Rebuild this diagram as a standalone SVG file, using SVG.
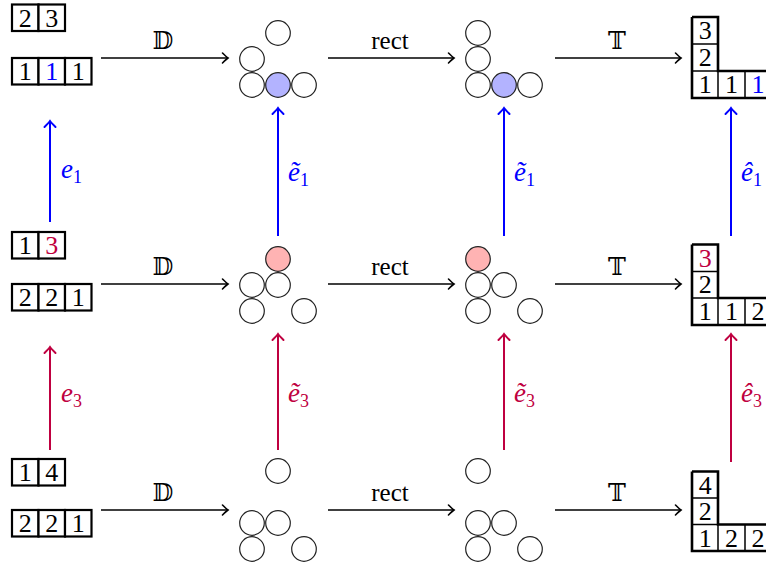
<svg xmlns="http://www.w3.org/2000/svg" width="766" height="566" viewBox="0 0 766 566">
<style>
.num{font-size:26px;text-anchor:middle;fill:#000;}
.cell{fill:#fff;stroke:#000;stroke-width:2.2;}
.in{fill:none;stroke:#000;stroke-width:1.5;}
.out{fill:none;stroke:#000;stroke-width:2.6;stroke-linejoin:miter;}
.c{fill:#fff;stroke:#222;stroke-width:1.2;}
.cb{fill:#b3b3ff;stroke:#222;stroke-width:1.2;}
.cp{fill:#ffb3b3;stroke:#222;stroke-width:1.2;}
.h{stroke:#000;stroke-width:1.6;fill:none;marker-end:url(#mk);}
.vb{stroke:#0000ff;stroke-width:2;fill:none;marker-end:url(#mb);}
.vr{stroke:#bf0040;stroke-width:2;fill:none;marker-end:url(#mr);}
.lab{font-size:25px;text-anchor:middle;fill:#000;}
.ds{font-size:24px;text-anchor:middle;fill:#000;}
.mb{font-size:27px;font-style:italic;fill:#0000ff;}
.mr{font-size:27px;font-style:italic;fill:#bf0040;}
.sub{font-size:18px;font-style:normal;}
.blue{fill:#0000ff;}
.red{fill:#bf0040;}
</style>
<defs>
<marker id="mk" markerUnits="userSpaceOnUse" markerWidth="14" markerHeight="14" viewBox="-8 -7 10 14" refX="0" refY="0" orient="auto" overflow="visible">
<path d="M-5.5,-5 Q-1.5,-1 0,0 Q-1.5,1 -5.5,5" fill="none" stroke="#000" stroke-width="1.6" stroke-linecap="round"/>
</marker>
<marker id="mb" markerUnits="userSpaceOnUse" markerWidth="14" markerHeight="14" viewBox="-8 -7 10 14" refX="0" refY="0" orient="auto" overflow="visible">
<path d="M-6,-5.5 Q-1.5,-1 0,0 Q-1.5,1 -6,5.5" fill="none" stroke="#0000ff" stroke-width="2" stroke-linecap="round"/>
</marker>
<marker id="mr" markerUnits="userSpaceOnUse" markerWidth="14" markerHeight="14" viewBox="-8 -7 10 14" refX="0" refY="0" orient="auto" overflow="visible">
<path d="M-6,-5.5 Q-1.5,-1 0,0 Q-1.5,1 -6,5.5" fill="none" stroke="#bf0040" stroke-width="2" stroke-linecap="round"/>
</marker>
</defs>

<g font-family="Liberation Serif, serif">
<!-- Left tableaux -->
<g id="L1">
<rect class="cell" x="12" y="4.5" width="26.5" height="26.5"/><rect class="cell" x="38.5" y="4.5" width="26.5" height="26.5"/>
<text class="num" x="25.3" y="26.5">2</text><text class="num" x="51.8" y="26.5">3</text>
<rect class="cell" x="12" y="58" width="26.5" height="26.5"/><rect class="cell" x="38.5" y="58" width="26.5" height="26.5"/><rect class="cell" x="65" y="58" width="26.5" height="26.5"/>
<text class="num" x="25.3" y="80">1</text><text class="num blue" x="51.8" y="80">1</text><text class="num" x="78.3" y="80">1</text>
</g>
<g id="L2">
<rect class="cell" x="12" y="232" width="26.5" height="26.5"/><rect class="cell" x="38.5" y="232" width="26.5" height="26.5"/>
<text class="num" x="25.3" y="254">1</text><text class="num red" x="51.8" y="254">3</text>
<rect class="cell" x="12" y="284" width="26.5" height="26.5"/><rect class="cell" x="38.5" y="284" width="26.5" height="26.5"/><rect class="cell" x="65" y="284" width="26.5" height="26.5"/>
<text class="num" x="25.3" y="306">2</text><text class="num" x="51.8" y="306">2</text><text class="num" x="78.3" y="306">1</text>
</g>
<g id="L3">
<rect class="cell" x="12" y="459" width="26.5" height="26.5"/><rect class="cell" x="38.5" y="459" width="26.5" height="26.5"/>
<text class="num" x="25.3" y="481">1</text><text class="num" x="51.8" y="481">4</text>
<rect class="cell" x="12" y="510" width="26.5" height="26.5"/><rect class="cell" x="38.5" y="510" width="26.5" height="26.5"/><rect class="cell" x="65" y="510" width="26.5" height="26.5"/>
<text class="num" x="25.3" y="532">2</text><text class="num" x="51.8" y="532">2</text><text class="num" x="78.3" y="532">1</text>
</g>

<!-- D circle diagrams -->
<g id="D1">
<circle class="c" cx="278" cy="33" r="12.3"/>
<circle class="c" cx="252" cy="59" r="12.3"/>
<circle class="c" cx="252" cy="85" r="12.3"/><circle class="cb" cx="278" cy="85" r="12.3"/><circle class="c" cx="304" cy="85" r="12.3"/>
</g>
<g id="D2">
<circle class="cp" cx="278" cy="259" r="12.3"/>
<circle class="c" cx="252" cy="285" r="12.3"/><circle class="c" cx="278" cy="285" r="12.3"/>
<circle class="c" cx="252" cy="311" r="12.3"/><circle class="c" cx="304" cy="311" r="12.3"/>
</g>
<g id="D3">
<circle class="c" cx="278" cy="471" r="12.3"/>
<circle class="c" cx="252" cy="523" r="12.3"/><circle class="c" cx="278" cy="523" r="12.3"/>
<circle class="c" cx="252" cy="549" r="12.3"/><circle class="c" cx="304" cy="549" r="12.3"/>
</g>

<!-- rect circle diagrams -->
<g id="R1">
<circle class="c" cx="478" cy="33" r="12.3"/>
<circle class="c" cx="478" cy="59" r="12.3"/>
<circle class="c" cx="478" cy="85" r="12.3"/><circle class="cb" cx="504" cy="85" r="12.3"/><circle class="c" cx="530" cy="85" r="12.3"/>
</g>
<g id="R2">
<circle class="cp" cx="478" cy="259" r="12.3"/>
<circle class="c" cx="478" cy="285" r="12.3"/><circle class="c" cx="504" cy="285" r="12.3"/>
<circle class="c" cx="478" cy="311" r="12.3"/><circle class="c" cx="530" cy="311" r="12.3"/>
</g>
<g id="R3">
<circle class="c" cx="478" cy="471" r="12.3"/>
<circle class="c" cx="478" cy="523" r="12.3"/><circle class="c" cx="504" cy="523" r="12.3"/>
<circle class="c" cx="478" cy="549" r="12.3"/><circle class="c" cx="530" cy="549" r="12.3"/>
</g>

<!-- Right tableaux -->
<g id="T1">
<path class="in" d="M692,44 H718 M692,71 H718 M718,71 V98 M745,71 V98"/>
<path class="out" d="M692,17 H718 V71 H772 M692,17 V98 H772"/>
<text class="num" x="705.3" y="39">3</text><text class="num" x="705.3" y="66">2</text>
<text class="num" x="705.3" y="93">1</text><text class="num" x="731.5" y="93">1</text><text class="num blue" x="758" y="93">1</text>
</g>
<g id="T2">
<path class="in" d="M692,271.5 H718 M692,298 H718 M718,298 V325 M745,298 V325"/>
<path class="out" d="M692,244.5 H718 V298 H772 M692,244.5 V325 H772"/>
<text class="num red" x="705.3" y="266.5">3</text><text class="num" x="705.3" y="293">2</text>
<text class="num" x="705.3" y="320">1</text><text class="num" x="731.5" y="320">1</text><text class="num" x="758" y="320">2</text>
</g>
<g id="T3">
<path class="in" d="M692,498 H718 M692,524.5 H718 M718,524.5 V551 M745,524.5 V551"/>
<path class="out" d="M692,471.5 H718 V524.5 H772 M692,471.5 V551 H772"/>
<text class="num" x="705.3" y="493.5">4</text><text class="num" x="705.3" y="520">2</text>
<text class="num" x="705.3" y="546.5">1</text><text class="num" x="731.5" y="546.5">2</text><text class="num" x="758" y="546.5">2</text>
</g>

<!-- Connectors -->
<g id="connectors">
<line class="h" x1="101" y1="58" x2="228" y2="58"/>
<line class="h" x1="328" y1="58" x2="454" y2="58"/>
<line class="h" x1="555" y1="58" x2="681" y2="58"/>
<line class="h" x1="101" y1="284" x2="228" y2="284"/>
<line class="h" x1="328" y1="284" x2="454" y2="284"/>
<line class="h" x1="555" y1="284" x2="681" y2="284"/>
<line class="h" x1="101" y1="510" x2="228" y2="510"/>
<line class="h" x1="328" y1="510" x2="454" y2="510"/>
<line class="h" x1="555" y1="510" x2="681" y2="510"/>
<g font-family="DejaVu Serif, DejaVu Sans, serif">
<text class="ds" x="163" y="49">𝔻</text>
<text class="ds" x="617" y="49">𝕋</text>
<text class="ds" x="163" y="275">𝔻</text>
<text class="ds" x="617" y="275">𝕋</text>
<text class="ds" x="163" y="501">𝔻</text>
<text class="ds" x="617" y="501">𝕋</text>
</g>
<text class="lab" x="390" y="49">rect</text>
<text class="lab" x="390" y="275">rect</text>
<text class="lab" x="390" y="501">rect</text>

<line class="vb" x1="50" y1="222" x2="50" y2="121"/>
<line class="vb" x1="278" y1="236" x2="278" y2="108"/>
<line class="vb" x1="504" y1="236" x2="504" y2="108"/>
<line class="vb" x1="731" y1="236" x2="731" y2="108"/>
<line class="vr" x1="50" y1="450" x2="50" y2="347"/>
<line class="vr" x1="278" y1="450" x2="278" y2="334"/>
<line class="vr" x1="504" y1="450" x2="504" y2="334"/>
<line class="vr" x1="731" y1="462" x2="731" y2="334"/>

<text class="mb" x="61" y="178">e<tspan class="sub" dy="5">1</tspan></text>
<text class="mb" x="288" y="181">ẽ<tspan class="sub" dy="5">1</tspan></text>
<text class="mb" x="514" y="181">ẽ<tspan class="sub" dy="5">1</tspan></text>
<text class="mb" x="741" y="181">ê<tspan class="sub" dy="5">1</tspan></text>
<text class="mr" x="61" y="402">e<tspan class="sub" dy="5">3</tspan></text>
<text class="mr" x="288" y="402">ẽ<tspan class="sub" dy="5">3</tspan></text>
<text class="mr" x="514" y="402">ẽ<tspan class="sub" dy="5">3</tspan></text>
<text class="mr" x="741" y="402">ê<tspan class="sub" dy="5">3</tspan></text>
</g>
</g>
</svg>
